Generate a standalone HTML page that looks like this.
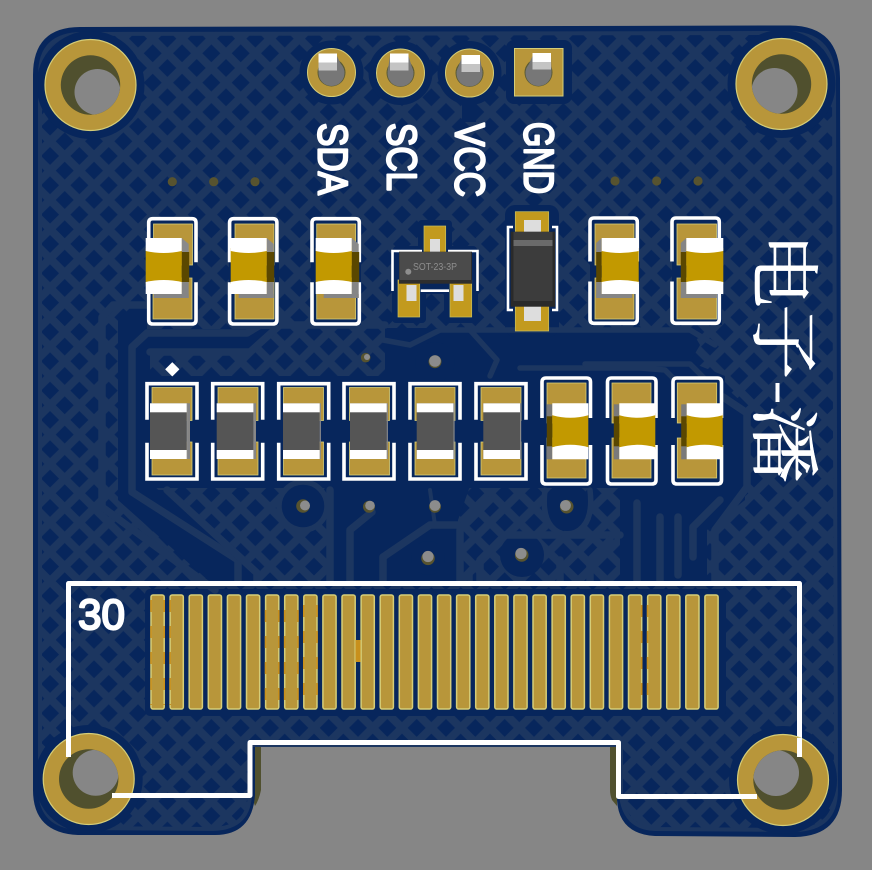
<!DOCTYPE html>
<html><head><meta charset="utf-8"><style>
html,body{margin:0;padding:0;background:#868686;width:872px;height:870px;overflow:hidden}
svg{display:block}
.sl{font-family:"Liberation Sans",sans-serif;fill:#fff;stroke:#fff;stroke-width:2.2;stroke-linejoin:round;stroke-linecap:round;font-size:42px}
.cj{font-family:"Liberation Serif","Noto Serif CJK SC",serif;fill:#fff;stroke:#fff;stroke-width:.5;font-size:70px}
</style></head><body>
<svg width="872" height="870" viewBox="0 0 872 870" xmlns="http://www.w3.org/2000/svg">
<defs>
<pattern id="h" width="29.33" height="29.33" patternUnits="userSpaceOnUse" x="138.04" y="38.64">
<rect width="29.33" height="29.33" fill="#1c3660"/>
<g fill="#07265c">
<polygon points="14.66,5.66 23.66,14.66 14.66,23.66 5.66,14.66"/>
<polygon points="0,-9 9,0 0,9 -9,0"/>
<polygon points="29.33,-9 38.33,0 29.33,9 20.33,0"/>
<polygon points="0,20.33 9,29.33 0,38.33 -9,29.33"/>
<polygon points="29.33,20.33 38.33,29.33 29.33,38.33 20.33,29.33"/>
</g></pattern>
<g id="stop" fill="none" stroke="#fff" stroke-width="3.6">
<path d="M0,43.5V4Q0,0 4,0H43.3Q47.3,0 47.3,4V43.5"/>
<path d="M0,63.5V101.3Q0,105.3 4,105.3H43.3Q47.3,105.3 47.3,101.3V63.5"/>
</g>
<g id="sgold" fill="none" stroke="#fff" stroke-width="3.6">
<path d="M0,40V4Q0,0 4,0H44.5Q48.5,0 48.5,4V40"/>
<path d="M0,67V102Q0,106 4,106H44.5Q48.5,106 48.5,102V67"/>
</g>
<g id="sres" fill="none" stroke="#fff" stroke-width="3.6">
<path d="M0,36V0H50V36"/>
<path d="M0,59V95.3H50V59"/>
</g>
<g id="capR">
<rect x="8" y="56" width="35" height="4" fill="#858585"/>
<rect x="36" y="44" width="7" height="16" fill="#858585"/>
<polygon points="36,0 43,6 43,20 36,14" fill="#8a8a8a"/>
<rect x="36" y="14" width="7.5" height="30" fill="#5a4700"/>
<rect x="0" y="10" width="36" height="36" fill="#c29900"/>
<path d="M0,0H36V13Q18,17 0,13Z" fill="#fff"/>
<path d="M0,44Q18,40 36,44V56H0Z" fill="#fff"/>
</g>
<g id="capL">
<rect x="-5.5" y="44" width="5.5" height="16" fill="#858585"/>
<rect x="-5.5" y="56" width="36" height="4" fill="#858585"/>
<polygon points="0,0 -5.5,5 -5.5,20 0,14" fill="#858585"/>
<rect x="-5.5" y="14" width="5.5" height="30" fill="#5a4700"/>
<rect x="0" y="10" width="37" height="36" fill="#c29900"/>
<path d="M0,0H37V13Q18,17 0,13Z" fill="#fff"/>
<path d="M0,44Q18,40 37,44V56H0Z" fill="#fff"/>
</g>
<g id="capS">
<rect x="-5.5" y="1" width="5.5" height="13" fill="#7a7a7a"/>
<rect x="-5.5" y="42" width="5.5" height="14" fill="#7a7a7a"/>
<rect x="-5.5" y="13" width="5.5" height="30" fill="#5a4700"/>
<rect x="0" y="10" width="36" height="36" fill="#c29900"/>
<path d="M0,0H36V12Q18,17 0,12Z" fill="#fff"/>
<path d="M0,44Q18,39 36,44V56H0Z" fill="#fff"/>
</g>
<g id="res">
<rect x="0" y="0" width="36.7" height="55.7" fill="#555"/>
<rect x="36.7" y="0" width="1.2" height="55.7" fill="#8a8a8a"/>
<rect x="0" y="0" width="36.7" height="9" fill="#fff"/>
<rect x="0" y="46.7" width="36.7" height="9" fill="#fff"/>
</g>
<clipPath id="c1"><circle cx="90.5" cy="85" r="29.7"/></clipPath>
<clipPath id="c2"><circle cx="781.5" cy="84" r="29.7"/></clipPath>
<clipPath id="c3"><circle cx="88.7" cy="779" r="29.7"/></clipPath>
<clipPath id="c4"><circle cx="783" cy="780" r="29.7"/></clipPath>
</defs>

<rect width="872" height="870" fill="#868686"/>
<path d="M253,745H261V790Q259,800 255,806L253,800Z" fill="#50502e"/>
<path d="M610,745H617V806L612,800Q610,795 610,790Z" fill="#50502e"/>
<path d="M80,27L790,25.5Q840,26 840,78L842,790Q842,836 795,837L655,836Q619,834 617,800L617,746H255V795Q252,835 215,835L78,835Q33,833 33,790L33,75Q33,27 80,27Z" fill="#07265c"/>
<path d="M82,34L788,33Q832,33 834,78L836,790Q836,829 795,830L655,829Q625,828 621,796L621,745H250V792Q250,828 213,829L78,828Q41,826 40,790L40,75Q40,34 82,34Z" fill="url(#h)" stroke="#1c3660" stroke-width="4"/>

<g fill="#07265c">
<circle cx="90.5" cy="85" r="54"/><circle cx="781.5" cy="84" r="54"/>
<circle cx="88.7" cy="779" r="54"/><circle cx="783" cy="780" r="54"/>
<circle cx="331.5" cy="72.5" r="32"/><circle cx="400.5" cy="73" r="32"/><circle cx="469.5" cy="73" r="32"/>
<rect x="506" y="40" width="66" height="64" rx="8"/>
<polygon points="118,320 130,308 147,308 147,329 272,329 248,350 150,350 150,490 167,490 257,573 257,582 210,582 118,500"/>
<rect x="145" y="376" width="580" height="112"/>
<polygon points="385,328 690,328 700,345 690,362 725,376 385,376"/>
<polygon points="332,486 470,486 458,520 458,582 332,582"/>
<polygon points="620,486 745,486 745,500 707,530 707,582 620,582"/>
<polygon points="723,385 745,405 745,490 723,490"/>
<rect x="145" y="589" width="581" height="127" rx="5"/>
<circle cx="303" cy="506" r="22"/><circle cx="435" cy="362" r="20"/><circle cx="567" cy="507" r="24"/><circle cx="522" cy="555" r="22"/>
<circle cx="428" cy="558" r="17"/>
<rect x="393" y="246" width="84" height="48" rx="4"/>
<rect x="418" y="220" width="34" height="34" rx="4"/>
<rect x="392" y="280" width="34" height="43" rx="4"/>
<rect x="444" y="280" width="34" height="43" rx="4"/>
<rect x="505" y="205" width="54" height="132" rx="10"/>
<rect x="462" y="100" width="14" height="22"/>
</g>

<g fill="none" stroke="#1c3660" stroke-width="7.5" stroke-linejoin="round" stroke-linecap="round">
<path d="M147,305H113L102,317V507L215,590"/>
<path d="M238,582V560L132,492V347L147,333H247L272,318"/>
<path d="M150,352H250L280,325H385"/>
<path d="M167,490L257,573V582"/>
<path d="M330,490V582"/>
<path d="M350,582V530L372,512"/>
<path d="M383,582V557L430,525H458"/>
<path d="M460,582V530L490,500"/>
<path d="M480,582V560L505,535H620"/>
<path d="M560,582V560"/>
<path d="M590,582V560L610,540"/>
<path d="M637,582V503"/>
<path d="M660,582V517"/>
<path d="M678,575V517"/>
<path d="M693,557V527L720,500"/>
<path d="M723,397L747,413V487L715,530V582"/>
<path d="M520,368H640L665,370L690,395" stroke-width="5.5"/>
<path d="M383,340L410,345L440,330H690L715,345" stroke-width="5.5"/>
<path d="M470,330L497,360L490,376" stroke-width="5.5"/>
<path d="M585,364H690L723,397" stroke-width="5.5"/>
<path d="M430,490L435,525" stroke-width="4"/>
<circle cx="303" cy="506" r="24" stroke-width="5.5"/>
<path d="M545,490Q540,530 567,535Q595,530 590,490" stroke-width="5.5"/>
<path d="M497,545L470,570V582" stroke-width="5.5"/>
</g>

<g fill="#b8963a" stroke="#d5cd78" stroke-width="1.5">
<rect x="151" y="595" width="13.2" height="114" rx="2"/><rect x="170.1" y="595" width="13.2" height="114" rx="2"/><rect x="189.2" y="595" width="13.2" height="114" rx="2"/><rect x="208.3" y="595" width="13.2" height="114" rx="2"/><rect x="227.4" y="595" width="13.2" height="114" rx="2"/><rect x="246.5" y="595" width="13.2" height="114" rx="2"/><rect x="265.6" y="595" width="13.2" height="114" rx="2"/><rect x="284.7" y="595" width="13.2" height="114" rx="2"/><rect x="303.8" y="595" width="13.2" height="114" rx="2"/><rect x="322.9" y="595" width="13.2" height="114" rx="2"/><rect x="342" y="595" width="13.2" height="114" rx="2"/><rect x="361.1" y="595" width="13.2" height="114" rx="2"/><rect x="380.2" y="595" width="13.2" height="114" rx="2"/><rect x="399.3" y="595" width="13.2" height="114" rx="2"/><rect x="418.4" y="595" width="13.2" height="114" rx="2"/><rect x="437.5" y="595" width="13.2" height="114" rx="2"/><rect x="456.6" y="595" width="13.2" height="114" rx="2"/><rect x="475.7" y="595" width="13.2" height="114" rx="2"/><rect x="494.8" y="595" width="13.2" height="114" rx="2"/><rect x="513.9" y="595" width="13.2" height="114" rx="2"/><rect x="533" y="595" width="13.2" height="114" rx="2"/><rect x="552.1" y="595" width="13.2" height="114" rx="2"/><rect x="571.2" y="595" width="13.2" height="114" rx="2"/><rect x="590.3" y="595" width="13.2" height="114" rx="2"/><rect x="609.4" y="595" width="13.2" height="114" rx="2"/><rect x="628.5" y="595" width="13.2" height="114" rx="2"/><rect x="647.6" y="595" width="13.2" height="114" rx="2"/><rect x="666.7" y="595" width="13.2" height="114" rx="2"/><rect x="685.8" y="595" width="13.2" height="114" rx="2"/><rect x="704.9" y="595" width="13.2" height="114" rx="2"/>
</g>
<g fill="none" stroke="#c8901c" stroke-width="1.6" stroke-dasharray="12 14">
<path d="M151,600V705M164.2,600V705M170.1,600V705M265.6,610V705M278.8,610V705M284.7,610V705M297.9,610V705M303.8,605V705M317,605V705M641.7,605V705M647.6,605V705"/>
</g>
<rect x="355.5" y="640" width="5" height="22" fill="#c8901c"/>

<g fill="#b8963a" stroke="#d5cd78" stroke-width="1">
<circle cx="331.5" cy="72.5" r="24"/><circle cx="400.5" cy="73" r="24"/><circle cx="469.5" cy="73" r="24"/>
<rect x="514.5" y="48.5" width="48.5" height="47.5"/>
</g>
<g fill="#5a5a34"><circle cx="331.5" cy="72.5" r="14"/><circle cx="400.5" cy="73" r="14"/><circle cx="469.5" cy="73" r="14"/><circle cx="538.5" cy="72.5" r="14"/></g>
<g fill="#777"><circle cx="331.5" cy="73" r="13"/><circle cx="400.5" cy="73.5" r="13"/><circle cx="469.5" cy="73.5" r="13"/><circle cx="538.5" cy="73" r="13"/>
<polygon points="318.5,72 318.5,56 337,56 344.5,72"/><polygon points="387.5,72 390,56 408.5,56 413.5,72"/><polygon points="456.5,72 461.5,58 480,58 482.5,72"/><polygon points="525.5,72 532.5,56 551,56 551.5,72"/></g>
<g fill="#fff"><rect x="318.5" y="53.5" width="18.5" height="9"/><rect x="390" y="53.5" width="18.5" height="9"/><rect x="461.5" y="55" width="18.5" height="9"/><rect x="532.5" y="53" width="18.5" height="9"/></g>
<g fill="#c4c4c4"><rect x="318.5" y="62.5" width="18.5" height="8"/><rect x="390" y="62.5" width="18.5" height="8"/><rect x="461.5" y="64" width="18.5" height="8"/><rect x="532.5" y="62" width="18.5" height="7.5"/></g>

<text class="sl" transform="translate(318.5,123) rotate(90)" textLength="72" lengthAdjust="spacingAndGlyphs">SDA</text>
<text class="sl" transform="translate(387.5,123) rotate(90)" textLength="68" lengthAdjust="spacingAndGlyphs">SCL</text>
<text class="sl" transform="translate(455.5,123) rotate(90)" textLength="74" lengthAdjust="spacingAndGlyphs">VCC</text>
<text class="sl" transform="translate(524.5,122) rotate(90)" textLength="72" lengthAdjust="spacingAndGlyphs">GND</text>

<g fill="#57532f">
<circle cx="172.3" cy="181.7" r="4.6"/><circle cx="213.7" cy="181.7" r="4.6"/><circle cx="255" cy="181.7" r="4.6"/>
<circle cx="615" cy="181" r="4.6"/><circle cx="656.7" cy="181" r="4.6"/><circle cx="698" cy="181" r="4.6"/>
</g>

<g fill="#07265c">
<rect x="148" y="218" width="49" height="107"/><rect x="229" y="218" width="50" height="107"/><rect x="311" y="218" width="50" height="107"/>
<rect x="590" y="218" width="50" height="107"/><rect x="672" y="218" width="50" height="107"/>
</g>
<g fill="#b8963a" stroke="#d5cd78" stroke-width=".8">
<rect x="153.5" y="224" width="39" height="41"/><rect x="153" y="278" width="39" height="41"/>
<rect x="235" y="224" width="39" height="41"/><rect x="235" y="278" width="39" height="41"/>
<rect x="316.7" y="224" width="39" height="41"/><rect x="316.7" y="278" width="39" height="41"/>
<rect x="595" y="224" width="39" height="41"/><rect x="595" y="278" width="39" height="41"/>
<rect x="677" y="224" width="39.5" height="41"/><rect x="677" y="278" width="39.5" height="41"/>
</g>
<use href="#stop" x="148.7" y="218.7"/>
<use href="#stop" x="229.6" y="218.7"/>
<use href="#stop" x="312" y="218.7"/>
<use href="#stop" x="590" y="218"/>
<use href="#stop" x="672" y="218"/>
<use href="#capR" x="145.7" y="238"/>
<use href="#capR" x="230.7" y="238"/>
<use href="#capR" x="315.7" y="238"/>
<use href="#capL" x="601.7" y="238"/>
<use href="#capL" x="686.3" y="238"/>

<g fill="#c29a1e" stroke="#c8bf60" stroke-width=".7">
<rect x="424" y="226" width="21.7" height="30"/>
<rect x="398" y="280" width="21.7" height="37"/>
<rect x="450" y="280" width="21.7" height="37"/>
</g>
<g fill="none" stroke="#fff" stroke-width="2.6">
<path d="M392.5,291V251H422M448,251H477.5V291"/>
<path d="M420.7,290.7H449"/>
</g>
<g><rect x="430" y="239" width="10" height="13" fill="#ddd"/><rect x="406.5" y="285" width="10" height="16" fill="#ddd"/><rect x="453.5" y="285" width="10" height="16" fill="#ddd"/></g>
<rect x="399" y="251.7" width="73" height="32" fill="#2e2e2e"/>
<rect x="399.5" y="252" width="71.5" height="28" fill="#4b4b4b"/>
<text x="413" y="270" font-family="'Liberation Sans',sans-serif" font-size="9.8" fill="#8e8e8e" textLength="44" lengthAdjust="spacingAndGlyphs">SOT-23-3P</text>
<circle cx="408.3" cy="271.7" r="3" fill="#8e8e8e"/>

<g fill="#c29a1e" stroke="#c8bf60" stroke-width=".7">
<rect x="515.3" y="211.7" width="33.4" height="22"/>
<rect x="515.3" y="306" width="33.4" height="25"/>
</g>
<rect x="524" y="220" width="17" height="12" fill="#ddd"/>
<rect x="524" y="306" width="17" height="15" fill="#ddd"/>
<g fill="none" stroke="#fff" stroke-width="2.6"><path d="M513,227H508V310H513"/><path d="M552,227H557V310H552"/></g>
<rect x="510.7" y="231.7" width="44.3" height="75" fill="#2a2a2a"/>
<rect x="513.5" y="232" width="39" height="69" fill="#3c3c3c"/>
<rect x="513.5" y="240" width="39" height="6" fill="#6a6a6a"/>

<g fill="#07265c">
<rect x="147" y="384" width="50" height="95"/><rect x="212" y="384" width="51" height="95"/><rect x="278" y="384" width="50" height="95"/>
<rect x="344" y="384" width="50" height="95"/><rect x="410" y="384" width="50" height="95"/><rect x="476" y="384" width="50" height="95"/>
<rect x="542" y="378" width="49" height="106"/><rect x="607" y="378" width="49" height="106"/><rect x="673" y="378" width="49" height="106"/>
</g>
<g fill="#b8963a" stroke="#d5cd78" stroke-width=".8">
<rect x="152" y="387.5" width="40" height="33"/><rect x="152" y="442" width="40" height="33"/>
<rect x="218" y="387.5" width="40" height="33"/><rect x="218" y="442" width="40" height="33"/>
<rect x="283.5" y="387.5" width="40" height="33"/><rect x="283.5" y="442" width="40" height="33"/>
<rect x="349.5" y="387.5" width="40" height="33"/><rect x="349.5" y="442" width="40" height="33"/>
<rect x="415" y="387.5" width="40" height="33"/><rect x="415" y="442" width="40" height="33"/>
<rect x="481" y="387.5" width="40" height="33"/><rect x="481" y="442" width="40" height="33"/>
<rect x="547" y="383" width="39" height="40"/><rect x="547" y="438" width="39" height="40"/>
<rect x="612" y="383" width="39" height="40"/><rect x="612" y="438" width="39" height="40"/>
<rect x="677.3" y="383" width="39.4" height="40"/><rect x="677.3" y="438" width="39.4" height="40"/>
</g>
<use href="#sres" x="147" y="383.7"/>
<use href="#sres" x="212.7" y="383.7"/>
<use href="#sres" x="278.7" y="383.7"/>
<use href="#sres" x="344" y="383.7"/>
<use href="#sres" x="410" y="383.7"/>
<use href="#sres" x="476" y="383.7"/>
<use href="#sgold" x="542" y="378"/>
<use href="#sgold" x="607.5" y="378"/>
<use href="#sgold" x="673" y="378"/>
<rect x="186.7" y="403.3" width="3.3" height="55.7" fill="#858585"/>
<rect x="253.3" y="403.3" width="2.7" height="55.7" fill="#858585"/>
<use href="#res" x="150" y="403.3"/>
<use href="#res" x="216.7" y="403.3"/>
<use href="#res" x="283" y="403.3"/>
<use href="#res" x="350" y="403.3"/>
<use href="#res" x="416.7" y="403.3"/>
<use href="#res" x="483.3" y="403.3"/>
<use href="#capS" x="552.3" y="403.3"/>
<use href="#capS" x="619.3" y="403.3"/>
<use href="#capS" x="686.7" y="403.3"/>
<polygon points="172.3,362.8 178.8,369.3 172.3,375.8 165.8,369.3" fill="#fff" stroke="#fff" stroke-width="1" stroke-linejoin="round"/>

<g fill="#57532f">
<circle cx="365.7" cy="357.7" r="4.8"/><circle cx="435" cy="361.7" r="6.5"/><circle cx="303" cy="506" r="6.8"/>
<circle cx="369" cy="506.7" r="6"/><circle cx="435" cy="506.7" r="6"/><circle cx="428" cy="558.3" r="6.8"/>
<circle cx="566.7" cy="506.7" r="6.8"/><circle cx="521.7" cy="555" r="6.8"/>
</g>
<g fill="#8c8c8c">
<circle cx="367" cy="357" r="3"/><circle cx="435" cy="361" r="5.8"/><circle cx="305" cy="505.5" r="5"/>
<circle cx="370" cy="505.5" r="4.8"/><circle cx="435" cy="505.5" r="5.4"/><circle cx="428" cy="556.5" r="5.6"/>
<circle cx="565.5" cy="505.5" r="5.4"/><circle cx="521" cy="553.5" r="5.6"/>
</g>

<path d="M68.5,757V583.5H799.5V738M112,795.5H250V742.5H618.5V796.5H740" fill="none" stroke="#fff" stroke-width="5" stroke-linejoin="round"/>

<g fill="#b8963a" stroke="#d5cd78" stroke-width="1.2">
<circle cx="90.5" cy="85" r="45.5"/><circle cx="781.5" cy="84" r="45.5"/>
<circle cx="88.7" cy="779" r="45.5"/><circle cx="783" cy="780" r="45.5"/>
</g>
<g fill="#50502e">
<circle cx="90.5" cy="85" r="29.7"/><circle cx="781.5" cy="84" r="29.7"/>
<circle cx="88.7" cy="779" r="29.7"/><circle cx="783" cy="780" r="29.7"/>
</g>
<g fill="#868686">
<circle cx="97.5" cy="92" r="23" clip-path="url(#c1)"/>
<circle cx="774.5" cy="91" r="23" clip-path="url(#c2)"/>
<circle cx="95.7" cy="772.7" r="23" clip-path="url(#c3)"/>
<circle cx="776" cy="773" r="23" clip-path="url(#c4)"/>
</g>
<path d="M68.5,757V735M799.5,738V757M112,795.5H135M715,796.5H757" fill="none" stroke="#fff" stroke-width="5"/>

<text class="sl" x="78" y="629" textLength="47" lengthAdjust="spacingAndGlyphs" style="font-size:43px">30</text>

<text class="cj" transform="translate(759,233) rotate(90) scale(1.07,1)">电</text>
<text class="cj" transform="translate(759,304) rotate(90) scale(1.08,1)">子</text>
<rect x="775.5" y="383" width="4" height="19" fill="#fff"/>
<text class="cj" transform="translate(759,405) rotate(90) scale(1.12,1)">潘</text>
</svg>
</body></html>
